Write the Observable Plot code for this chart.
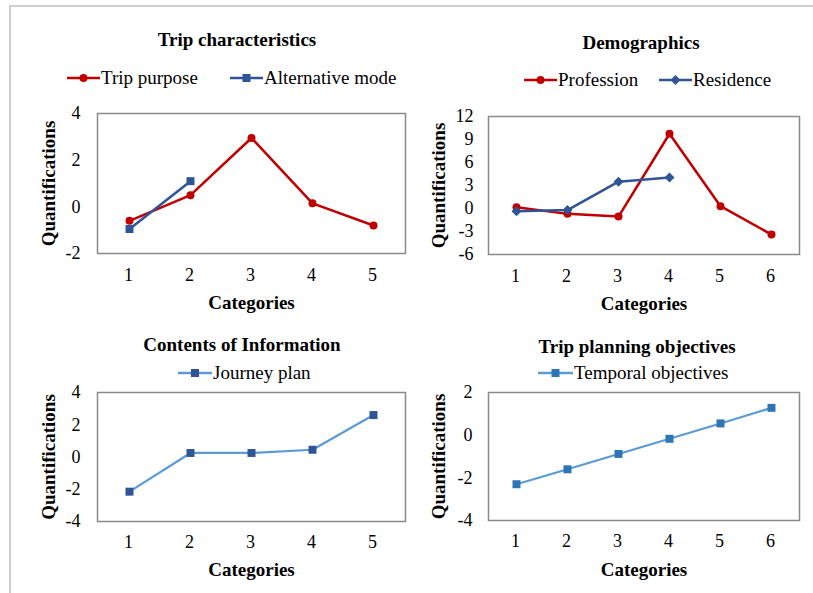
<!DOCTYPE html>
<html><head><meta charset="utf-8">
<script src="https://cdn.jsdelivr.net/npm/d3@7"></script>
<script src="https://cdn.jsdelivr.net/npm/@observablehq/plot@0.6"></script>
<style>
body{margin:0;background:#fff;}
#root{position:relative;width:813px;height:593px;overflow:hidden;font-family:"Liberation Serif","Times New Roman",serif;color:#000;background:#fff;}
.border{position:absolute;left:9px;top:5px;width:900px;height:700px;border-top:2px solid #cfcfcf;border-left:2px solid #cfcfcf;}
.title{position:absolute;font-weight:bold;font-size:19px;line-height:22px;white-space:nowrap;transform:translateX(-50%);}
.legend{position:absolute;font-size:19px;line-height:22px;white-space:nowrap;display:flex;align-items:center;}
.legend svg{margin-right:1px;}
.panel{position:absolute;}
.panel text{font-family:"Liberation Serif","Times New Roman",serif;font-variant-numeric:normal;}
</style></head><body><div id="root"><div class="border"></div></div>
<script>
// ---- data ----
const tripCats = [1, 2, 3, 4, 5];
const tripPurpose = [-0.6, 0.5, 2.95, 0.15, -0.8];
const alternativeMode = [-0.95, 1.1];
const tripTicks = [-2, 0, 2, 4];

const demoCats = [1, 2, 3, 4, 5, 6];
const profession = [0.15, -0.7, -1.05, 9.75, 0.3, -3.4];
const residence = [-0.35, -0.2, 3.5, 4.05];
const demoTicks = [-6, -3, 0, 3, 6, 9, 12];

const infoCats = [1, 2, 3, 4, 5];
const journeyPlan = [-2.15, 0.25, 0.25, 0.45, 2.6];
const infoTicks = [-4, -2, 0, 2, 4];

const planCats = [1, 2, 3, 4, 5, 6];
const temporalObjectives = [-2.3, -1.6, -0.88, -0.17, 0.55, 1.28];
const planTicks = [-4, -2, 0, 2];

const RED = "#c00000", DBLUE = "#2f5597", LBLUE = "#5b9bd5", MBLUE = "#2e75b6";
const SERIF = '"Liberation Serif","Times New Roman",serif';

const root = document.getElementById("root");

function panel(o) {
  const marks = [
    Plot.frame({stroke: "#8a8a8a", strokeWidth: 1.5}),
    Plot.axisY(o.ticks, {tickSize: 0, tickPadding: o.padY, label: null, tickFormat: d => String(d), fontSize: 18, fontFamily: SERIF, fontVariant: "normal"}),
    Plot.axisX(o.cats, {tickSize: 0, tickPadding: o.padX, label: null, fontSize: 18, fontFamily: SERIF, fontVariant: "normal", dx: -1}),
    Plot.text(["Quantifications"], {frameAnchor: "left", rotate: -90, dx: o.labDx, textAnchor: "middle", lineAnchor: "middle", fontWeight: "bold", fontSize: 19, fontFamily: SERIF}),
    Plot.text(["Categories"], {frameAnchor: "bottom", dy: o.labDy, textAnchor: "middle", lineAnchor: "middle", fontWeight: "bold", fontSize: 19, fontFamily: SERIF})
  ];
  for (const s of o.series) {
    const data = s.values.map((v, i) => ({x: o.cats[i], y: v}));
    marks.push(Plot.line(data, {x: "x", y: "y", stroke: s.line, strokeWidth: s.sw}));
    marks.push(Plot.dot(data, {x: "x", y: "y", symbol: s.symbol, r: s.r, fill: s.marker, stroke: "none"}));
  }
  const chart = Plot.plot({
    width: o.width, height: o.height,
    marginLeft: o.mL, marginRight: o.mR, marginTop: o.mT, marginBottom: o.mB,
    style: {fontFamily: SERIF, fontSize: "18px", color: "#000", background: "transparent", overflow: "visible"},
    x: {type: "point", domain: o.cats, padding: 0.5},
    y: {domain: o.domain},
    marks
  });
  chart.classList.add("panel");
  chart.style.left = o.left + "px";
  chart.style.top = o.top + "px";
  root.appendChild(chart);
}

function title(text, cx, cy) {
  const d = document.createElement("div");
  d.className = "title";
  d.textContent = text;
  d.style.left = cx + "px";
  d.style.top = (cy - 11) + "px";
  root.appendChild(d);
}

function symbolPath(sym, cx, cy) {
  if (sym === "circle") return `<circle cx="${cx}" cy="${cy}" r="4" />`;
  if (sym === "square") return `<rect x="${cx - 4}" y="${cy - 4}" width="8" height="8" />`;
  return `<path d="M${cx},${cy - 5}L${cx + 5},${cy}L${cx},${cy + 5}L${cx - 5},${cy}Z" />`;
}

function legendItem(text, x, cy, line, marker, sym, w) {
  const d = document.createElement("div");
  d.className = "legend";
  d.style.left = x + "px";
  d.style.top = (cy - 11) + "px";
  d.innerHTML = `<svg width="${w}" height="14"><line x1="0" y1="7" x2="${w}" y2="7" stroke="${line}" stroke-width="2.5"/><g fill="${marker}">${symbolPath(sym, w / 2, 7)}</g></svg><span>${text}</span>`;
  root.appendChild(d);
}

// ---- Panel 1: Trip characteristics ----
title("Trip characteristics", 237, 40);
legendItem("Trip purpose", 67, 78, RED, RED, "circle", 33);
legendItem("Alternative mode", 230, 78, DBLUE, DBLUE, "square", 33);
panel({
  cats: tripCats, ticks: tripTicks, domain: [-2, 4],
  left: 20, top: 100, width: 395, height: 220, mL: 77, mR: 10, mT: 13, mB: 67,
  padY: 17, padX: 15, labDx: -49, labDy: 49,
  series: [
    {values: tripPurpose, line: RED, marker: RED, symbol: "circle", r: 4, sw: 2.5},
    {values: alternativeMode, line: DBLUE, marker: DBLUE, symbol: "square", r: 4.5, sw: 2.5}
  ]
});

// ---- Panel 2: Demographics ----
title("Demographics", 641, 43);
legendItem("Profession", 524, 80, RED, RED, "circle", 33);
legendItem("Residence", 659, 80, DBLUE, DBLUE, "diamond", 33);
panel({
  cats: demoCats, ticks: demoTicks, domain: [-6, 12],
  left: 415, top: 100, width: 395, height: 220, mL: 73, mR: 11, mT: 16, mB: 66,
  padY: 15, padX: 15, labDx: -50, labDy: 49,
  series: [
    {values: profession, line: RED, marker: RED, symbol: "circle", r: 4, sw: 2.5},
    {values: residence, line: DBLUE, marker: DBLUE, symbol: "diamond2", r: 4.5, sw: 2.5}
  ]
});

// ---- Panel 3: Contents of Information ----
title("Contents of Information", 242, 345);
legendItem("Journey plan", 178, 373, LBLUE, DBLUE, "square", 34);
panel({
  cats: infoCats, ticks: infoTicks, domain: [-4, 4],
  left: 20, top: 380, width: 395, height: 213, mL: 77, mR: 10, mT: 12, mB: 72,
  padY: 17, padX: 14, labDx: -49, labDy: 48,
  series: [
    {values: journeyPlan, line: LBLUE, marker: DBLUE, symbol: "square", r: 4.5, sw: 2.2}
  ]
});

// ---- Panel 4: Trip planning objectives ----
title("Trip planning objectives", 637, 347);
legendItem("Temporal objectives", 538, 373, LBLUE, MBLUE, "square", 35);
panel({
  cats: planCats, ticks: planTicks, domain: [-4, 2],
  left: 415, top: 380, width: 395, height: 213, mL: 73, mR: 11, mT: 12, mB: 73,
  padY: 16, padX: 14, labDx: -50, labDy: 49,
  series: [
    {values: temporalObjectives, line: LBLUE, marker: MBLUE, symbol: "square", r: 4.5, sw: 2.2}
  ]
});
</script></body></html>
